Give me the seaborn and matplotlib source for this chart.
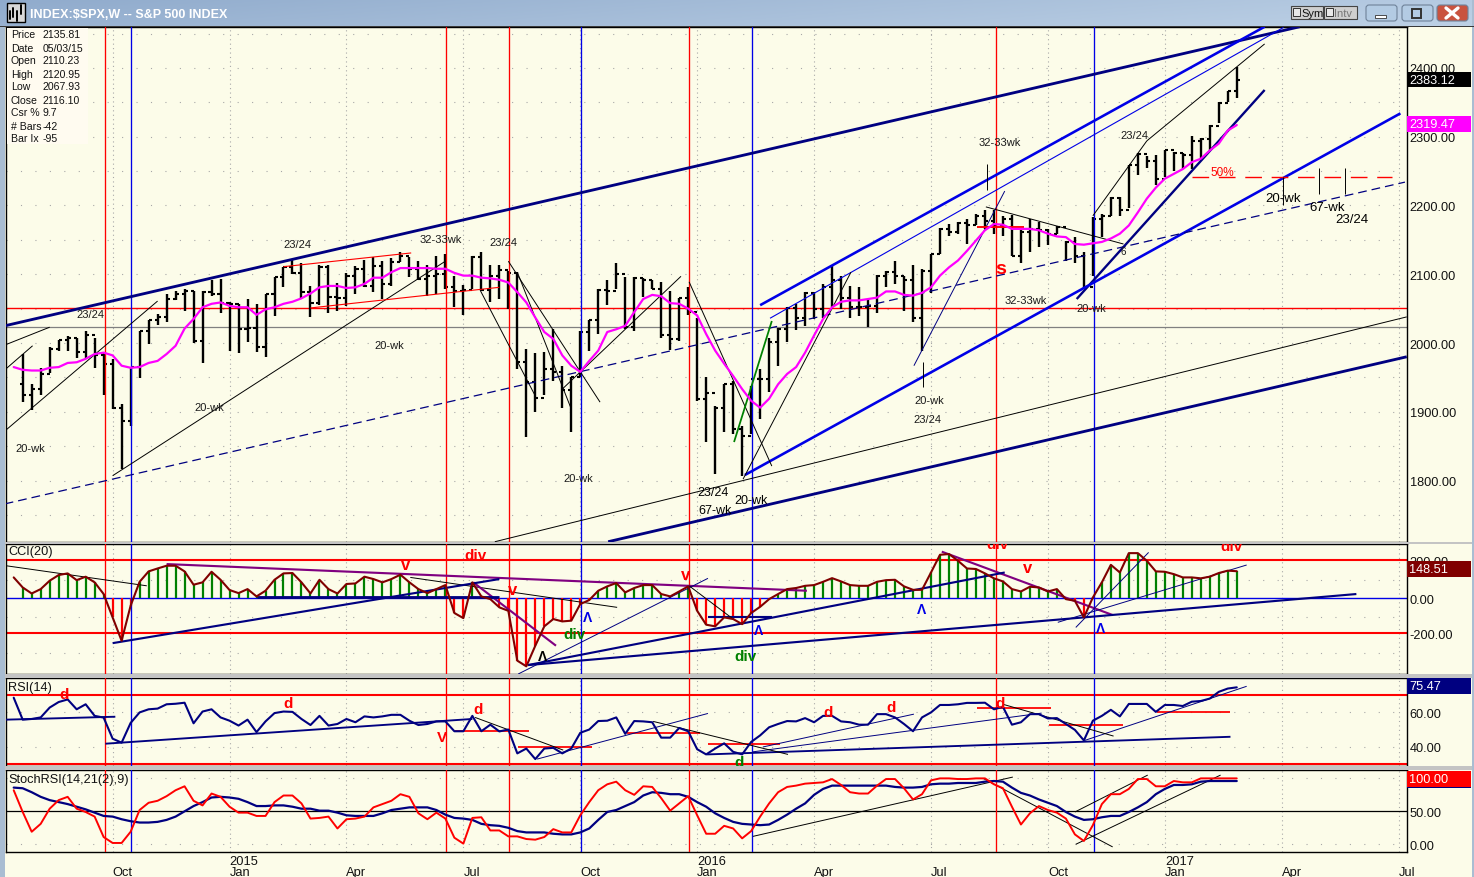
import numpy as np
import pandas as pd
import matplotlib
matplotlib.use("Agg")
import matplotlib.pyplot as plt
from matplotlib.patches import Rectangle, FancyBboxPatch
import seaborn as sns

# ---------- data (x = week index, y = value) ----------
high = [1984,1941,1963,1994,2005,2010,2007,2018,2008,1987,
        1977,1911,1965,2018,2034,2042,2072,2075,2078,2076,
        2076,2092,2093,2059,2057,2064,2057,2072,2096,2110,
        2121,2116,2083,2114,2114,2088,2102,2112,2121,2125,
        2120,2123,2133,2125,2120,2114,2127,2130,2097,2084,
        2127,2132,2113,2113,2105,2103,1991,1986,1987,2020,
        1967,1950,2018,2033,2079,2092,2116,2096,2096,2094,
        2092,2089,2075,2066,2082,2037,1950,1908,1940,1945,
        1880,1938,1962,2008,2022,2052,2057,2074,2074,2086,
        2113,2098,2083,2081,2064,2099,2105,2120,2097,2113,
        2108,2130,2167,2173,2176,2181,2188,2194,2194,2185,
        2186,2164,2180,2176,2166,2170,2149,2154,2132,2183,
        2188,2212,2213,2259,2276,2272,2273,2281,2278,2276,
        2301,2298,2317,2350,2367,2401]
low = [1914,1902,1925,1957,1989,1988,1978,1977,1963,1924,
       1904,1817,1880,1949,1998,2026,2031,2062,2047,2000,
       1971,2069,2043,1989,1985,2002,1987,1979,2039,2082,
       2101,2065,2038,2055,2043,2046,2054,2071,2081,2074,
       2064,2083,2118,2096,2091,2069,2072,2079,2053,2041,
       2079,2076,2060,2064,2049,1962,1864,1900,1925,1945,
       1906,1870,1950,1989,2013,2055,2079,2020,2017,2067,
       2078,2007,1990,2003,2041,1916,1856,1810,1870,1868,
       1807,1868,1890,1929,1967,2002,2019,2025,2035,2037,
       2052,2049,2037,2040,2023,2044,2081,2086,2047,2030,
       1989,2073,2130,2156,2159,2144,2171,2166,2159,2156,
       2126,2117,2133,2139,2142,2159,2120,2117,2079,2098,
       2154,2184,2184,2197,2245,2255,2230,2242,2250,2253,
       2253,2267,2281,2320,2350,2356]
close = [1925,1933,1955,1992,2004,2008,1987,2011,1982,1970,
         1905,1887,1965,2017,2033,2038,2064,2072,2075,2003,
         2074,2071,2058,2057,2020,2022,1994,2071,2096,2110,
         2102,2074,2058,2110,2067,2066,2098,2108,2083,2112,
         2086,2118,2126,2108,2093,2097,2100,2081,2076,2077,
         2125,2077,2098,2106,2102,1972,1943,1920,1962,1958,
         1931,1950,2016,2033,2077,2076,2100,2024,2095,2092,
         2079,2011,2006,2065,2045,1918,1928,1906,1940,1875,
         1865,1948,1948,2001,2020,2051,2037,2073,2050,2081,
         2091,2066,2052,2052,2054,2098,2103,2097,2091,2037,
         2105,2130,2166,2161,2175,2171,2185,2178,2171,2180,
         2127,2161,2166,2164,2159,2168,2147,2127,2082,2180,
         2185,2211,2194,2259,2275,2264,2239,2280,2276,2273,
         2294,2297,2316,2349,2367,2383]
open_ = [1940,1925,1933,1955,1992,2004,2008,1987,2011,1982,
         1970,1905,1887,1965,2017,2033,2038,2064,2072,2075,
         2003,2074,2071,2058,2057,2020,2022,1994,2071,2096,
         2110,2102,2074,2058,2110,2067,2066,2098,2108,2083,
         2112,2086,2118,2126,2108,2093,2097,2100,2081,2076,
         2077,2125,2077,2098,2106,2102,1972,1943,1920,1962,
         1958,1931,1950,2016,2033,2077,2076,2100,2024,2095,
         2092,2079,2011,2006,2065,2045,1918,1928,1906,1940,
         1875,1865,1948,1948,2001,2020,2051,2037,2073,2050,
         2081,2091,2066,2052,2052,2054,2098,2103,2097,2091,
         2037,2105,2130,2166,2161,2175,2171,2185,2178,2171,
         2180,2127,2161,2166,2164,2159,2168,2147,2127,2082,
         2180,2185,2211,2194,2259,2275,2264,2239,2280,2276,
         2273,2294,2297,2316,2349,2367]
ma20 = [1965,
        1961,1960,1960,1964,1965,1971,1972,1977,1984,1986,
        1982,1967,1964,1965,1971,1974,1984,1996,2021,2035,
        2052,2057,2059,2054,2052,2052,2041,2049,2052,2057,
        2060,2065,2072,2081,2083,2083,2080,2081,2086,2095,
        2095,2103,2109,2109,2109,2109,2108,2108,2102,2098,
        2098,2095,2094,2092,2088,2074,2059,2037,2016,2006,
        1982,1967,1958,1974,1989,2016,2020,2025,2045,2064,
        2070,2068,2058,2057,2050,2040,2013,1989,1970,1952,
        1933,1916,1906,1919,1940,1955,1965,1986,2011,2035,
        2052,2060,2062,2062,2064,2066,2075,2075,2070,2069,
        2073,2081,2098,2110,2120,2134,2149,2164,2173,2172,
        2166,2166,2166,2164,2159,2155,2154,2144,2143,2145,
        2147,2152,2159,2171,2190,2210,2226,2239,2246,2253,
        2263,2268,2280,2290,2309,2317]
cci = [115,
       60,27,51,97,128,137,100,119,88,24,
       -104,-232,-40,91,148,164,179,179,148,75,
       88,146,102,46,29,51,11,42,102,137,
       139,88,27,102,51,27,79,82,119,106,
       88,106,130,88,51,29,51,73,-80,-108,
       88,11,-4,-49,-68,-341,-372,-259,-153,-113,
       -126,-122,-31,-9,42,66,84,33,57,73,
       73,24,11,38,66,-68,-144,-153,-104,-113,
       -141,-80,-46,-4,24,51,57,69,73,91,
       111,93,73,69,69,91,100,102,66,47,
       47,142,239,243,206,164,161,137,110,93,
       51,38,64,60,38,51,-4,-13,-104,5,
       88,184,142,248,248,206,148,146,133,115,
       115,110,119,139,152,149]
rsi = [68.5,
       55.8,56.2,57.1,62.8,66,67.5,61.8,64.7,58,57,
       44.8,42.5,53.9,60,61.8,62.2,64.7,65,65.6,53.7,
       60.5,61.8,57.1,55.2,52.4,55.8,48.6,54.8,59.6,60.5,
       60.3,56.2,52.7,58,52.4,53.3,56.2,54.3,57.7,57.1,
       57.7,58.6,58.6,55.2,52.7,53.3,54.8,54.8,49.1,49.1,
       58,49.1,52.9,49,50.1,36.3,39.1,33,39.1,39.5,
       36.3,39.1,48.2,50.1,55,55.2,57.1,47.6,55,54.8,
       54.3,45.4,45.4,51,49.1,38.7,35.7,39.1,42.1,37.2,
       35.7,42.9,46.7,51.4,53.3,55,54.8,56.7,54.3,58,
       58,54.8,54.3,52.9,52.9,59,59,57.1,53.3,49.1,
       57.1,60,64.3,64.3,64.7,65.5,65.5,65.6,61.8,63.2,
       52.9,54.3,59,59,56.5,56.7,53.3,49.9,43.8,55.2,
       58,61.5,57.7,64.9,64.9,64.9,60.3,64.3,64.3,63.7,
       66.2,66.6,68,71.9,73.8,74.5]
stoch_signal = [86,
       85,79,72,67,64,61,57,53,48,43,
       42,38,35,33,33,34,37,42,50,58,
       64,71,72,71,69,64,58,58,59,59,
       57,54,54,51,51,48,44,43,43,43,
       47,52,54,56,56,56,52,45,40,39,
       37,31,29,28,25,20,18,18,18,16,
       15,15,18,24,37,49,52,58,64,74,
       79,78,76,76,72,64,57,47,40,34,
       31,30,29,30,37,45,54,62,75,84,
       89,89,89,89,89,89,89,87,86,86,
       87,91,92,92,93,93,93,95,96,95,
       86,78,74,68,63,58,49,42,37,38,
       41,43,43,49,56,64,76,84,90,90,
       91,95,96,96,96,96]
stoch_rsi = [82,
       49,19,31,54,67,72,54,49,42,11,
       2,2,19,52,63,66,73,82,88,66,
       59,77,72,57,48,48,43,43,64,74,
       74,62,39,40,42,24,38,39,42,56,
       61,66,76,72,47,38,48,39,10,1,
       40,41,21,21,12,12,8,7,11,23,
       18,18,44,64,82,91,95,82,75,88,
       87,70,51,62,73,44,16,16,28,24,
       9,20,42,62,79,87,89,92,93,94,
       99,90,79,77,77,89,99,99,85,68,
       76,97,100,100,99,99,100,100,91,85,
       57,30,47,58,52,48,39,15,5,29,
       61,76,76,84,99,99,88,88,96,94,
       94,100,100,100,100,100]

date_ticks = [10,23,36,49,62,75,88,101,114,127,140,153]
date_labels = ["\nOct","2015\nJan","\nApr","\nJul","\nOct","2016\nJan","\nApr","\nJul","\nOct","2017\nJan","\nApr","\nJul"]
red_weeks = [9.1,47.05,54.05,74.1,108.2]
blue_weeks = [12.05,62.05,81.1,119.1]

price_ticks = [1800,1900,2000,2100,2200,2300,2400]
cci_levels = [210,0,-190]
cci_level_labels = ["200.00","0.00","-200.00"]
rsi_ticks = [40,60]
stoch_ticks = [0,50,100]

NAVY, BLUE, RED, BLACK, GREEN, PURPLE = "#000080","#0000E6","#FF0000","#000000","#008000","#800080"

# trend lines: (week, value, week, value, colour, width, dashes)
main_lines = [
 (-2,2025,142,2460,NAVY,2.4,None),(82,2055,138.1,2460,BLUE,2.2,None),(83.1,2036,140.2,2459,BLUE,0.8,None),
 (119,2185,125,2294,BLACK,0.7,None),(125,2294,138.1,2435,BLACK,0.7,None),(117.2,2064,138.1,2368,NAVY,2.0,None),
 (80.3,1808,153.2,2334,BLUE,2.2,None),(-2,1766,153.7,2234,NAVY,0.9,(7,4)),(52.5,1711,153.9,2038,BLACK,0.7,None),
 (65.1,1711,153.9,1980,NAVY,2.4,None),(-2,1997,3,2023,BLACK,0.7,None),(-1.9,1962,1.1,1996,BLACK,0.7,None),
 (-1.9,1873,15,2061,BLACK,0.7,None),(10,1807,47,2119,BLACK,0.7,None),(29,2111,43.2,2131,RED,0.8,None),
 (32,2051,53,2081,RED,0.8,None),(54,2119,64.2,1914,BLACK,0.7,None),(50.9,2076,57,1923,BLACK,0.7,None),
 (55,2103,61,1904,BLACK,0.7,None),(60,1933,73.2,2097,BLACK,0.7,None),(74.1,2089,83.3,1821,BLACK,0.7,None),
 (80.1,1802,92.1,2103,BLACK,0.7,None),(79.1,1856,83.3,2032,GREEN,1.5,None),(99.1,1967,109.2,2221,NAVY,0.7,None),
 (107.1,2198,122.4,2144,BLACK,0.7,None),(106.1,2169,111.3,2169,RED,1.6,None),(130,2241,152.3,2241,RED,1.0,(12,7)),
 (107.2,2260,107.2,2223,BLACK,0.7,None),(100.1,1972,100.1,1936,BLACK,0.7,None),(140.1,2241,140.1,2200,BLACK,0.7,None),
 (144.2,2255,144.2,2217,BLACK,0.7,None),(147.0,2255,147.0,2217,BLACK,0.7,None),
]
cci_lines = [
 (-1.86,179,13.8,69,BLACK,0.7,None),(43.1,115,66.1,-49,BLACK,0.7,None),(16,188,87.2,42,PURPLE,1.8,None),
 (50.1,88,59.3,-259,PURPLE,1.8,None),(102.2,256,121.2,-91,PURPLE,1.8,None),(10,-245,53,106,NAVY,1.8,None),
 (26,5,53,5,NAVY,2.4,None),(56.2,-365,109.2,142,NAVY,1.8,None),(56.2,-365,148.3,24,NAVY,1.8,None),
 (76.2,-100,83.3,-100,NAVY,1.8,None),(55.1,-414,76.2,110,NAVY,0.7,None),(115.1,-131,136.1,183,NAVY,0.7,None),
 (117.1,-159,125.2,252,NAVY,0.7,None),(74.1,69,79,-113,BLACK,0.7,None),
]
rsi_lines = [
 (-1.9,55.8,10.3,57.5,NAVY,1.6,None),(9.2,41.9,50,56.2,NAVY,1.6,None),(76.1,35.7,134.3,45.9,NAVY,1.6,None),
 (48.1,49,56.3,49,RED,1.5,None),(55.1,40.2,63.3,40.2,RED,1.5,None),(67.2,48.2,75.3,48.2,RED,1.5,None),
 (76.2,41.9,84.2,41.9,RED,1.5,None),(106.1,62.4,114.3,62.4,RED,1.5,None),(114.1,52.9,122.3,52.9,RED,1.5,None),
 (126.1,60.1,134.3,60.1,RED,1.5,None),(57.2,33,76.2,59.4,NAVY,0.7,None),(82.3,40,99.1,59,NAVY,0.7,None),
 (81.2,37.2,113.3,59.6,NAVY,0.7,None),(118.1,43.8,136.1,75.1,NAVY,0.7,None),(50.3,57.1,60.1,38.2,BLACK,0.7,None),
 (70.1,54.8,85.1,35.7,BLACK,0.7,None),(109,64.7,121.3,46.3,BLACK,0.7,None),
]
stoch_lines = [
 (81.2,12,110.1,102,BLACK,0.7,None),(106.8,100,121.2,-4,BLACK,0.7,None),
 (117,49,125.1,105,BLACK,0.7,None),(117.1,0,133.2,105,BLACK,0.7,None),
]
# notes: (week, value, text, colour, size, weight)
INK = "#1a1a1a"
main_notes = [
 (30.5,2144,"23/24",INK,8,"normal"),(46.5,2151,"32-33wk",INK,8,"normal"),(53.5,2147,"23/24",INK,8,"normal"),
 (7.5,2042,"23/24",INK,8,"normal"),(40.8,1997,"20-wk",INK,8,"normal"),(20.8,1907,"20-wk",INK,8,"normal"),
 (0.8,1847,"20-wk",INK,8,"normal"),(61.8,1804,"20-wk",INK,8,"normal"),(76.8,1783,"23/24",BLACK,9,"normal"),
 (77,1757,"67-wk",BLACK,9,"normal"),(81,1772,"20-wk",BLACK,9,"normal"),(100.8,1917,"20-wk",INK,8,"normal"),
 (100.6,1889,"23/24",INK,8,"normal"),(108.6,2292,"32-33wk",INK,8,"normal"),(123.6,2303,"23/24",INK,8,"normal"),
 (111.5,2063,"32-33wk",INK,8,"normal"),(118.8,2051,"20-wk",INK,8,"normal"),(140.1,2211,"20-wk",BLACK,9.5,"normal"),
 (145,2198,"67-wk",BLACK,9.5,"normal"),(147.8,2180,"23/24",BLACK,9.5,"normal"),(133.4,2249,"50%",RED,8.5,"normal"),
 (108.7,2108,"s",RED,14,"bold"),(122.4,2134,"6",INK,7,"normal"),
]
cci_notes = [
 (42.6,183,"v",RED,12,"bold"),(50.4,237,"div",RED,11,"bold"),(54.5,51,"v",RED,12,"bold"),(73.7,133,"v",RED,12,"bold"),
 (61.4,-195,"div",GREEN,11,"bold"),(80.4,-314,"div",GREEN,11,"bold"),(111.7,170,"v",RED,12,"bold"),
 (108.4,298,"div",RED,11,"bold"),(134.4,285,"div",RED,11,"bold"),
 (62.8,-104,"\u039b",BLUE,10,"bold"),(81.8,-172,"\u039b",BLUE,10,"bold"),(99.9,-58,"\u039b",BLUE,10,"bold"),
 (119.9,-164,"\u039b",BLUE,10,"bold"),(57.8,-314,"\u039b",BLACK,10,"bold"),
]
rsi_notes = [
 (4.6,70.4,"d",RED,11,"bold"),(29.5,65.3,"d",RED,11,"bold"),(50.6,61.8,"d",RED,11,"bold"),(46.6,45.7,"V",RED,11,"bold"),
 (89.6,60.5,"d",RED,11,"bold"),(96.6,63.2,"d",RED,11,"bold"),(79.7,31.5,"d",GREEN,11,"bold"),(108.7,65.3,"d",RED,11,"bold"),
]
info_rows = [("Price","2135.81"),("Date","05/03/15"),("Open","2110.23"),("High","2120.95"),("Low","2067.93"),
             ("Close","2116.10"),("Csr %","9.7"),("# Bars","-42"),("Bar Ix","-95")]

# ---------- build ----------
sns.set_style("white")
plt.rcParams["font.family"] = ["Liberation Sans", "DejaVu Sans"]
W, H = 1474, 878
PANEL = "#FCFCE9"
fig = plt.figure(figsize=(W/100, H/100), dpi=100, facecolor=PANEL)

def add_panel(top, bottom):
    ax = fig.add_axes([6/W, 1-bottom/H, 1401/W, (bottom-top)/H])
    ax.set_facecolor(PANEL)
    ax.set_xlim(-1.857, 153.93)
    ax.yaxis.tick_right()
    ax.tick_params(axis="y", length=0, pad=2, labelsize=9.2, labelcolor="#111111")
    ax.tick_params(axis="x", length=0)
    ax.set_xticks(date_ticks)
    ax.set_xticklabels([])
    for s in ax.spines.values():
        s.set_color("black"); s.set_linewidth(1.0)
    for w in date_ticks:
        ax.axvline(w, color="#a8a8a8", lw=0.8, ls=(0,(1,3)), zorder=0.5)
    for w in red_weeks:
        ax.axvline(w, color=RED, lw=0.95, zorder=4)
    for w in blue_weeks:
        ax.axvline(w, color=BLUE, lw=0.95, zorder=4)
    return ax

def draw_lines(ax, lines):
    for x0,y0,x1,y1,c,lw,d in lines:
        width = lw*0.85 if lw > 1.2 else lw
        l, = ax.plot([x0,x1],[y0,y1],color=c,lw=width,zorder=5,solid_capstyle="butt")
        if d: l.set_linestyle((0,d))

def draw_notes(ax, notes):
    for x,y,t,c,s,wt in notes:
        ax.text(x,y,t,color=c,fontsize=s,fontweight=wt,ha="center",va="center",zorder=8,clip_on=True)

def hdots(ax, levels, gap=12):
    for v in levels:
        ax.axhline(v,color="#a8a8a8",lw=0.8,ls=(0,(1,gap)),zorder=0.5)

def value_box(ax, lo, hi, text, colour):
    ax.add_patch(Rectangle((1.0,lo),64/1401,hi-lo,transform=ax.get_yaxis_transform(),
                           color=colour,clip_on=False,lw=0,zorder=9))
    if text:
        ax.text(1.0015,(lo+hi)/2,text,color="white",fontsize=9.2,ha="left",va="center",
                transform=ax.get_yaxis_transform(),clip_on=False,zorder=10)

weeks = np.arange(len(high))
wk_ind = np.arange(-1, len(high))
df_ind = pd.DataFrame({"week":wk_ind,"ma":ma20,"cci":cci,"rsi":rsi,"sig":stoch_signal,"st":stoch_rsi})

# main
ax = add_panel(28,543)
ax.set_ylim(1710.6,2459.6)
ax.set_yticks(price_ticks); ax.set_yticklabels([f"{v:.2f}" for v in price_ticks])
hdots(ax,np.arange(1750,2451,50))
ax.axhline(2051,color=RED,lw=1.0,zorder=1)
ax.axhline(2023,color="#808080",lw=0.9,zorder=1)
ax.vlines(weeks,low,high,color="black",lw=1.7,zorder=3)
ax.hlines(open_,weeks-0.34,weeks,color="black",lw=1.5,zorder=3)
ax.hlines(close,weeks,weeks+0.34,color="black",lw=1.5,zorder=3)
sns.lineplot(data=df_ind,x="week",y="ma",ax=ax,color="#FF00FF",lw=1.6,legend=False,estimator=None,sort=False,zorder=6)
ax.set_xlabel(""); ax.set_ylabel("")
draw_lines(ax,main_lines); draw_notes(ax,main_notes)
value_box(ax,2372,2394,"2383.12","black")
value_box(ax,2307,2330,"2319.47","#FF00FF")
ax.set_xlim(-1.857,153.93)

# CCI
ax2 = add_panel(545,675)
ax2.set_ylim(-414,298)
ax2.set_yticks(cci_levels); ax2.set_yticklabels(cci_level_labels)
hdots(ax2,[-300,-100,100])
ax2.axhline(0,color=BLUE,lw=1.0,zorder=1)
for v in (210,-190):
    ax2.axhline(v,color=RED,lw=1.5,zorder=2)
stem = np.array(cci[1:],dtype=float)
ax2.vlines(weeks[stem>=0],0,stem[stem>=0],color=GREEN,lw=1.6,zorder=3)
ax2.vlines(weeks[stem<0],0,stem[stem<0],color=RED,lw=1.6,zorder=3)
draw_lines(ax2,cci_lines)
sns.lineplot(data=df_ind,x="week",y="cci",ax=ax2,color="#800000",lw=1.5,legend=False,estimator=None,sort=False,zorder=6)
ax2.set_xlabel(""); ax2.set_ylabel("")
draw_notes(ax2,cci_notes)
value_box(ax2,119,204,"148.51","#800000")
ax2.set_xlim(-1.857,153.93)
ax2.text(0.0015,0.945,"CCI(20)",transform=ax2.transAxes,fontsize=9.2,color="#111111",va="center",zorder=9)

# RSI
ax3 = add_panel(679,767)
ax3.set_ylim(29,79.9)
ax3.set_yticks(rsi_ticks); ax3.set_yticklabels([f"{v:.2f}" for v in rsi_ticks])
hdots(ax3,[40,60])
for v in (70,30):
    ax3.axhline(v,color=RED,lw=1.5,zorder=2)
draw_lines(ax3,rsi_lines)
sns.lineplot(data=df_ind,x="week",y="rsi",ax=ax3,color=NAVY,lw=1.5,legend=False,estimator=None,sort=False,zorder=6)
ax3.set_xlabel(""); ax3.set_ylabel("")
draw_notes(ax3,rsi_notes)
value_box(ax3,70.4,79.9,"75.47",NAVY)
ax3.set_xlim(-1.857,153.93)
ax3.text(0.0015,0.9,"RSI(14)",transform=ax3.transAxes,fontsize=9.2,color="#111111",va="center",zorder=9)

# StochRSI
ax4 = add_panel(771,853)
ax4.set_ylim(-11.7,112.7)
ax4.set_yticks(stoch_ticks); ax4.set_yticklabels([f"{v:.2f}" for v in stoch_ticks])
hdots(ax4,[0,100])
ax4.axhline(50,color="black",lw=0.9,zorder=1)
draw_lines(ax4,stoch_lines)
sns.lineplot(data=df_ind,x="week",y="sig",ax=ax4,color=NAVY,lw=1.6,legend=False,estimator=None,sort=False,zorder=6)
sns.lineplot(data=df_ind,x="week",y="st",ax=ax4,color=RED,lw=1.4,legend=False,estimator=None,sort=False,zorder=7)
ax4.set_xlabel(""); ax4.set_ylabel("")
value_box(ax4,85,87.5,"",NAVY)
value_box(ax4,87,111.7,"100.00",RED)
ax4.set_xlim(-1.857,153.93)
ax4.text(0.0015,0.895,"StochRSI(14,21(2),9)",transform=ax4.transAxes,fontsize=9.2,color="#111111",va="center",zorder=9)
ax4.set_xticklabels(date_labels,fontsize=9.3,ha="left",color="#111111",linespacing=0.95)
ax4.tick_params(axis="x",pad=2)

# window furniture, in figure pixels
top = fig.add_axes([0,0,1,1],zorder=20); top.axis("off"); top.patch.set_alpha(0)
gx = np.linspace(0,1,256); gy = np.linspace(0,1,20)
grad = (0.55+0.30*gx)[None,:]+(0.06*gy)[:,None]
top.imshow(grad,extent=(0,W,27,0),cmap=matplotlib.colors.LinearSegmentedColormap.from_list("b",["#8AA6C9","#C8DAEC"]),
           vmin=0.5,vmax=1.0,aspect="auto",zorder=1)
top.set_xlim(0,W); top.set_ylim(H,0)
top.add_patch(Rectangle((0,27),W,1.2,color="#3a3a3a",lw=0,zorder=2))
top.add_patch(Rectangle((0,27),5,H,color="#A9BDD2",lw=0,zorder=1))
top.add_patch(Rectangle((1472,0),2,H,color="#A9BDD2",lw=0,zorder=1))
for a,b in ((543,545),(675,679),(767,771)):
    top.add_patch(Rectangle((5,a),1467,b-a,color="#C4C4C4",lw=0,zorder=1))
top.add_patch(Rectangle((7,4),18,19,facecolor="#D8D8D8",edgecolor="black",lw=1,zorder=2))
for x,y0,y1 in ((10,12,20),(13,9,18),(17,12,22),(21,6,15)):
    top.plot([x,x],[y0,y1],color="black",lw=1.4,zorder=3)
top.text(30,14.5,"INDEX:$SPX,W -- S&P 500 INDEX",color="white",fontsize=9,fontweight="bold",va="center",ha="left",zorder=3)
for x,w,t,c in ((1291,32,"Sym","#111111"),(1324,33,"Intv","#777777")):
    top.add_patch(Rectangle((x,7),w,13,facecolor="#CFCFCF",edgecolor="#444444",lw=0.8,zorder=2))
    top.add_patch(Rectangle((x+2,9),7,8,facecolor="#E8E8E8",edgecolor="#333333",lw=0.7,zorder=3))
    top.text(x+10,14,t,color=c,fontsize=8,va="center",zorder=3)
for x,w,c in ((1365,33,"#B3CBE3"),(1401,33,"#B3CBE3"),(1436,33,"#C9533F")):
    top.add_patch(FancyBboxPatch((x+1,6),w-2,16,boxstyle="round,pad=0,rounding_size=3",facecolor=c,edgecolor="#6F8299",lw=0.8,zorder=2))
top.add_patch(Rectangle((1375,16),11,3,facecolor="white",edgecolor="#333333",lw=0.6,zorder=3))
top.add_patch(Rectangle((1412,10),9,9,facecolor="none",edgecolor="#333333",lw=1.4,zorder=3))
top.plot([1446,1458],[9,19],color="white",lw=2.4,zorder=3)
top.plot([1446,1458],[19,9],color="white",lw=2.4,zorder=3)
top.add_patch(Rectangle((7,29),81,116,color="#FFFBF0",lw=0,zorder=2))
for k,(a,b) in enumerate(info_rows):
    y = 35.5+13*k
    top.text(11,y,a,fontsize=7.6,color="#111111",va="center",zorder=3)
    top.text(43,y,b,fontsize=7.6,color="#111111",va="center",zorder=3)

fig.savefig("out.png",dpi=100,facecolor=PANEL)
